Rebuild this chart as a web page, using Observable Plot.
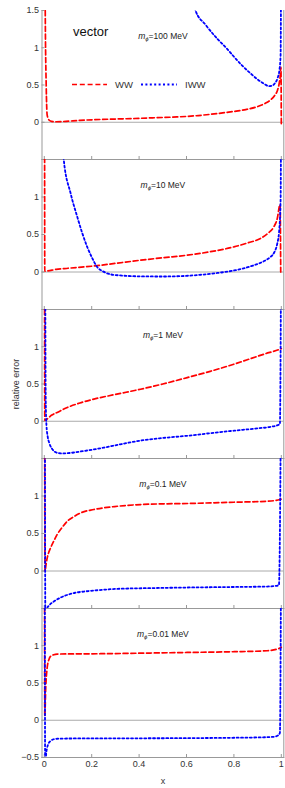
<!DOCTYPE html>
<html><head><meta charset="utf-8">
<script src="https://cdn.jsdelivr.net/npm/d3@7"></script>
<script src="https://cdn.jsdelivr.net/npm/@observablehq/plot@0.6"></script>
<style>
body{margin:0;background:#fff;}
#wrap{position:relative;width:285px;height:788px;font-family:"Liberation Sans",Arial,sans-serif;overflow:hidden;}
#wrap svg{display:block;}
#legend{position:absolute;left:0;top:0;pointer-events:none;}
</style></head><body><div id="wrap"></div>
<script>
// ---- tick labels ----
const xTicks = [0, 0.2, 0.4, 0.6, 0.8, 1];
const yTicksFirst = [0, 0.5, 1, 1.5];
const yTicksMiddle = [0, 0.5, 1];
const yTicksLast = [-0.5, 0, 0.5, 1];
const massLabels = ["100 MeV", "10 MeV", "1 MeV", "0.1 MeV", "0.01 MeV"];
const seriesNames = ["WW", "IWW"];

// ---- series: [x, relative error] ----
const ww100 = [[0.0005,6],[0.004,1.5],[0.008,0.5],[0.012,0.1],[0.02,0.03],[0.03,0.012],[0.05,0.007],[0.08,0.01],[0.15,0.025],[0.2,0.033],[0.3,0.043],[0.38,0.05],[0.46,0.06],[0.56,0.071],[0.65,0.09],[0.73,0.117],[0.8,0.145],[0.85,0.17],[0.9,0.21],[0.93,0.25],[0.955,0.3],[0.972,0.36],[0.984,0.43],[0.991,0.52],[0.996,0.64],[0.9985,0.74],[1.0,-0.02]];
const iww100 = [[0.6,2.3],[0.638,1.5],[0.68,1.31],[0.73,1.12],[0.77,0.99],[0.8,0.88],[0.84,0.745],[0.871,0.653],[0.9,0.575],[0.925,0.52],[0.948,0.485],[0.962,0.49],[0.972,0.52],[0.984,0.59],[0.992,0.7],[0.997,0.9],[1.0,3]];

const ww10 = [[0.0005,6],[0.002,0.01],[0.012,0.013],[0.05,0.035],[0.1,0.05],[0.209,0.08],[0.3,0.115],[0.406,0.157],[0.5,0.19],[0.603,0.224],[0.7,0.27],[0.8,0.335],[0.86,0.39],[0.912,0.447],[0.945,0.52],[0.968,0.6],[0.982,0.7],[0.995,0.9],[0.9975,0.0]];
const iww10 = [[0.06,3],[0.082,1.5],[0.111,1.05],[0.139,0.736],[0.16,0.52],[0.181,0.335],[0.2,0.2],[0.223,0.067],[0.25,0.005],[0.279,-0.031],[0.33,-0.048],[0.406,-0.058],[0.5,-0.06],[0.546,-0.058],[0.63,-0.045],[0.73,-0.013],[0.8,0.02],[0.884,0.09],[0.93,0.15],[0.954,0.2],[0.97,0.26],[0.983,0.38],[0.991,0.55],[0.997,0.96],[1.0,3]];

const ww1 = [[0.0003,6],[0.002,0.01],[0.012,0.03],[0.03,0.08],[0.054,0.118],[0.097,0.185],[0.15,0.245],[0.209,0.297],[0.3,0.36],[0.406,0.43],[0.5,0.5],[0.603,0.586],[0.7,0.67],[0.8,0.766],[0.87,0.84],[0.926,0.9],[0.994,0.967],[1.0,0.975]];
const iww1 = [[0.0015,6],[0.006,0.3],[0.009,-0.05],[0.014,-0.2],[0.022,-0.3],[0.035,-0.38],[0.055,-0.425],[0.075,-0.432],[0.1,-0.428],[0.166,-0.4],[0.25,-0.355],[0.32,-0.31],[0.406,-0.26],[0.5,-0.225],[0.603,-0.195],[0.7,-0.16],[0.8,-0.127],[0.9,-0.095],[0.956,-0.074],[0.994,-0.04],[1.0,3]];

const ww01 = [[0.0003,6],[0.003,0.0],[0.007,0.08],[0.012,0.17],[0.018,0.24],[0.026,0.305],[0.04,0.4],[0.054,0.485],[0.075,0.58],[0.097,0.663],[0.125,0.725],[0.153,0.774],[0.209,0.82],[0.308,0.863],[0.406,0.886],[0.5,0.895],[0.603,0.9],[0.7,0.908],[0.8,0.917],[0.94,0.93],[0.994,0.953],[1.0,0.96]];
const iww01 = [[0.001,6],[0.005,-1.0],[0.009,-0.6],[0.012,-0.5],[0.02,-0.46],[0.04,-0.408],[0.065,-0.36],[0.097,-0.319],[0.13,-0.29],[0.167,-0.274],[0.23,-0.255],[0.308,-0.238],[0.45,-0.228],[0.603,-0.22],[0.8,-0.213],[0.94,-0.207],[0.98,-0.197],[0.99,-0.185],[1.0,3]];

const ww001 = [[0.0003,6],[0.002,0.05],[0.006,0.43],[0.012,0.7],[0.02,0.82],[0.026,0.857],[0.04,0.88],[0.054,0.888],[0.1,0.89],[0.237,0.893],[0.4,0.9],[0.603,0.91],[0.8,0.92],[0.94,0.933],[0.994,0.968],[1.0,0.98]];
const iww001 = [[0.0008,6],[0.004,-0.9],[0.008,-0.45],[0.012,-0.37],[0.018,-0.31],[0.026,-0.28],[0.04,-0.255],[0.054,-0.248],[0.1,-0.245],[0.3,-0.243],[0.6,-0.24],[0.8,-0.235],[0.93,-0.228],[0.968,-0.222],[0.985,-0.205],[0.994,-0.17],[1.0,3]];

// ---- layout ----
const W = 285, ML = 41.5, MR = 1.7;
const innerH = [149, 150, 149, 150, 149];
const wwSeries = [ww100, ww10, ww1, ww01, ww001];
const iwwSeries = [iww100, iww10, iww1, iww01, iww001];
const yTicksFor = i => i === 0 ? yTicksFirst : (i === 4 ? yTicksLast : yTicksMiddle);
const fmt = d => (d < 0 ? "\u2212" : "") + String(Math.abs(d));
const FRAME = "#999", ZERO = "#aaa", TXT = "#333";
const RED = "#ff0000", BLUE = "#0000ff";
const DASH = "5,2.8", DOT = "2,2.4";
const ns = "http://www.w3.org/2000/svg";

const wrap = document.getElementById("wrap");
for (let i = 0; i < 5; i++) {
  const mt = i === 0 ? 10 : 0;
  const mb = i === 4 ? 31 : 0;
  const h = innerH[i];
  const yt = yTicksFor(i);
  const marks = [
    Plot.ruleY([0], {stroke: ZERO, strokeWidth: 1}),
    Plot.frame({anchor: "left", stroke: FRAME}),
    Plot.frame({anchor: "right", stroke: FRAME}),
    Plot.frame({anchor: "bottom", stroke: FRAME}),
    Plot.tickX(xTicks, {x: d => d, insetTop: h - 3, stroke: FRAME}),
    Plot.tickY(yt, {y: d => d, insetRight: W - ML - MR - 3, stroke: FRAME}),
    Plot.axisY({ticks: yt, tickSize: 0, tickPadding: 3, tickFormat: fmt, fill: TXT,
      label: i === 2 ? "relative error" : null, labelAnchor: "center", labelOffset: 29, labelArrow: false}),
    Plot.line(wwSeries[i], {x: d => d[0], y: d => d[1], stroke: RED, strokeWidth: 1.7,
      strokeDasharray: DASH, curve: "monotone-x", clip: true}),
    Plot.line(iwwSeries[i], {x: d => d[0], y: d => d[1], stroke: BLUE, strokeWidth: 1.8,
      strokeDasharray: DOT, curve: "monotone-x", clip: true}),
    Plot.text([massLabels[i]], {text: d => d, frameAnchor: "top", dy: 22, fontSize: 8.5, fill: "#222"})
  ];
  if (i === 0) {
    marks.push(Plot.text(["vector"], {text: d => d, frameAnchor: "top-left", dx: 31, dy: 16,
      textAnchor: "start", fontSize: 13, fill: "#111"}));
  }
  if (i === 4) {
    marks.push(Plot.axisX({ticks: xTicks, tickSize: 0, tickPadding: 3, tickFormat: d => String(d),
      fill: TXT, label: "x", labelAnchor: "center", labelOffset: 26, labelArrow: false}));
  }
  const chart = Plot.plot({
    width: W, height: h + mt + mb,
    marginLeft: ML, marginRight: MR, marginTop: mt, marginBottom: mb,
    style: {fontFamily: "'Liberation Sans', Arial, sans-serif", fontSize: "9px", color: TXT, background: "transparent", overflow: "visible"},
    x: {domain: [-0.0097, 1.0105], axis: i === 4 ? undefined : null},
    y: {domain: [-0.5, 1.5]},
    marks
  });
  // rich text for m_phi labels
  chart.querySelectorAll("text").forEach(t => {
    if (t.textContent !== massLabels[i]) return;
    const val = t.textContent;
    t.textContent = "";
    const a = document.createElementNS(ns, "tspan"); a.setAttribute("font-style", "italic"); a.textContent = "m";
    const b = document.createElementNS(ns, "tspan"); b.setAttribute("font-size", "6"); b.setAttribute("dy", "2.2"); b.setAttribute("font-style", "italic"); b.textContent = "\u03d5";
    const c = document.createElementNS(ns, "tspan"); c.setAttribute("dy", "-2.2"); c.textContent = "=" + val;
    t.append(a, b, c);
  });
  wrap.appendChild(chart);
}

// legend (inside top panel)
const leg = document.createElement("div");
leg.id = "legend";
leg.innerHTML = `<svg width="285" height="100" xmlns="http://www.w3.org/2000/svg" font-family="'Liberation Sans', Arial, sans-serif">
<line x1="72" x2="107" y1="84.5" y2="84.5" stroke="${RED}" stroke-width="1.7" stroke-dasharray="${DASH}"/>
<text x="115" y="88" font-size="9.5" fill="${TXT}">${seriesNames[0]}</text>
<line x1="141" x2="177" y1="84.5" y2="84.5" stroke="${BLUE}" stroke-width="1.8" stroke-dasharray="${DOT}"/>
<text x="185" y="88" font-size="9.5" fill="${TXT}">${seriesNames[1]}</text>
</svg>`;
wrap.appendChild(leg);
</script>
</body></html>
